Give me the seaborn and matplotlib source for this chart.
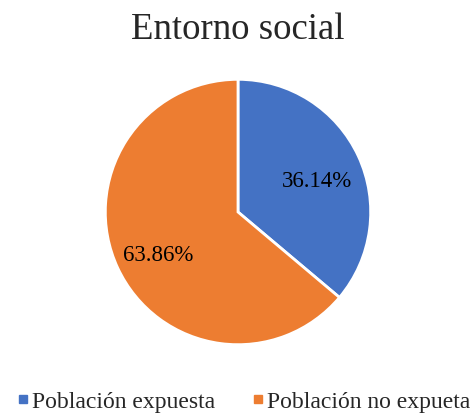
import matplotlib.pyplot as plt
import matplotlib.transforms as mtransforms
import seaborn as sns
from matplotlib.lines import Line2D

# Data
labels = ["Población expuesta", "Población no expueta"]
values = [36.14, 63.86]
colors = ["#4472C4", "#ED7D31"]

sns.set_style("white")
plt.rcParams['font.family'] = ['Liberation Serif', 'DejaVu Serif']

fig = plt.figure(figsize=(4.75, 4.14), dpi=100)
ax = fig.add_axes([(238 - 134) / 475, (414 - 213 - 134) / 414, 268 / 475, 268 / 414])

wedges, texts, autotexts = ax.pie(values, colors=colors, startangle=90, counterclock=False,
                                  autopct="%.2f%%", pctdistance=0.66, radius=1,
                                  wedgeprops=dict(edgecolor="white", linewidth=2),
                                  textprops=dict(fontsize=16.5, color="black"))
# nudge percent labels down a little
for t in autotexts:
    t.set_transform(mtransforms.offset_copy(ax.transData, fig=fig, x=0, y=-4, units="points"))

ax.set_xlim(-1.01, 1.01)
ax.set_ylim(-1.01, 1.01)
ax.set_aspect("equal")
ax.axis("off")

fig.text(0.5, 0.928, "Entorno social", ha="center", va="center", fontsize=26.5)

handles = [Line2D([], [], marker="s", linestyle="none", markersize=6,
                  markerfacecolor=c, markeredgecolor=c) for c in colors]
fig.legend(handles, labels, loc="center", bbox_to_anchor=(0.512, 0.028),
           ncol=2, frameon=False, fontsize=17, handletextpad=0.1,
           columnspacing=1.5, handlelength=0.6)

fig.savefig("out.png", dpi=100)
